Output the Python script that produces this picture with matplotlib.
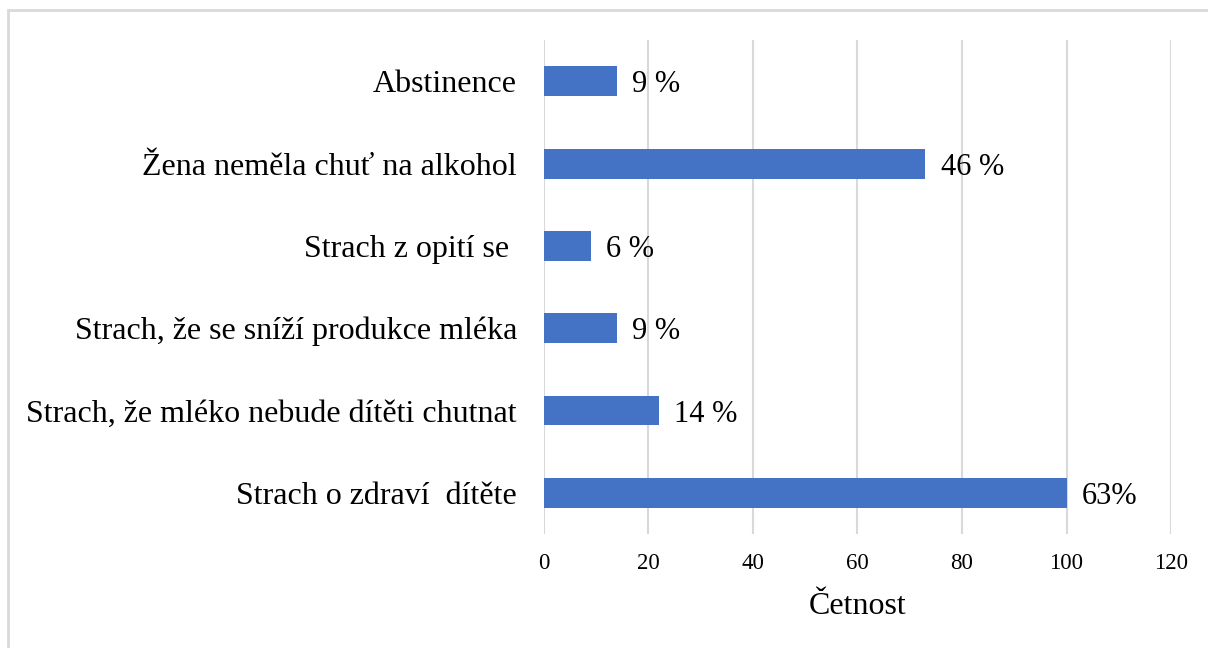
import matplotlib.pyplot as plt
from matplotlib.patches import Rectangle

categories = [
    "Strach o zdraví  dítěte",
    "Strach, že mléko nebude dítěti chutnat",
    "Strach, že se sníží produkce mléka",
    "Strach z opití se ",
    "Žena neměla chuť na alkohol",
    "Abstinence",
]
counts = [100, 22, 14, 9, 73, 14]
pct_labels = ["63%", "14 %", "9 %", "6 %", "46 %", "9 %"]
xticks = [0, 20, 40, 60, 80, 100, 120]

plt.rcParams["font.family"] = ["Liberation Serif", "DejaVu Serif"]

fig = plt.figure(figsize=(12.08, 6.48), dpi=100)
ax = fig.add_axes([0.4503, 0.176, 0.5191, 0.762])

ypos = range(len(categories))
ax.barh(ypos, counts, height=0.364, color="#4472c4", zorder=3)

for y, v, lab in zip(ypos, counts, pct_labels):
    ax.text(v + 2.9, y, lab, va="center_baseline", ha="left", fontsize=22)

ax.set_xlim(0, 120)
ax.set_ylim(-0.5, len(categories) - 0.5)
ax.set_xticks(xticks)
ax.set_yticks(list(ypos))
ax.set_yticklabels(categories, fontsize=23, va="center_baseline")
ax.tick_params(axis="x", labelsize=16.5, length=0, pad=14)
ax.tick_params(axis="y", length=0, pad=19.5)
ax.grid(axis="x", color="#d9d9d9", linewidth=1.5, zorder=0)
for s in ax.spines.values():
    s.set_visible(False)

ax.set_xlabel("Četnost", fontsize=23, labelpad=13)

fig.patches.append(Rectangle((8 / 1208, -0.05), 1.1, 1 - 10 / 648 + 0.05,
                             transform=fig.transFigure, fill=False,
                             edgecolor="#d9d9d9", linewidth=2))

fig.savefig("out.png", dpi=100)
